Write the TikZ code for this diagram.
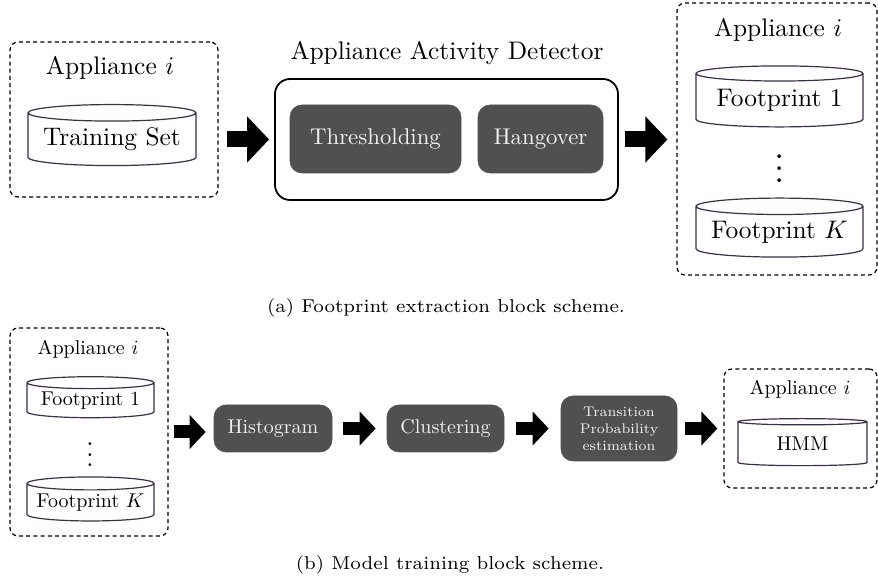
\documentclass[tikz,border=0pt]{standalone}
\usepackage{amsmath}
\usepackage{amssymb}
\usepackage{tikz}
\usetikzlibrary{positioning,shapes.geometric,arrows.meta}

\definecolor{cylcol}{RGB}{62,44,72}
\definecolor{blockfill}{RGB}{80,80,80}
\definecolor{blocktext}{RGB}{242,242,242}

\newcommand{\bigtxt}[1]{\scalebox{1.27}{#1}}
\newcommand{\midtxt}[1]{\scalebox{1.14}{#1}}
\newcommand{\captxt}[1]{\scalebox{1.33}{\fontsize{7}{8}\selectfont #1}}

\begin{document}
\begin{tikzpicture}[x=0.5pt, y=-0.5pt,
    applbox/.style={draw, dashed, dash pattern=on 2pt off 1.6pt, line width=0.6pt, rounded corners=4pt, inner sep=0pt},
    detbox/.style={draw, line width=0.9pt, rounded corners=7.5pt, inner sep=0pt},
    procbox/.style={fill=blockfill, draw=blockfill, line width=0.3pt, rounded corners=6pt, text=blocktext, inner sep=0pt},
    dbcyl/.style={cylinder, shape border rotate=90, draw=cylcol, line width=0.6pt, aspect=0.12, inner sep=0pt},
    vdotsnode/.style={inner sep=0pt},
    bigarrow/.style={line width=8pt, -{Triangle[length=11pt, width=22.5pt]}},
    smallarrow/.style={line width=6.5pt, -{Triangle[length=8pt, width=16.5pt]}}
]
    \useasboundingbox (0,0) rectangle (878,581);

    % (a) footprint extraction
    \node[applbox, minimum width=104pt, minimum height=77.5pt] (app1) at (114,119.5) {};
    \node (app1lbl) at (110,68) {\bigtxt{Appliance $i$}};
    \node[dbcyl, minimum width=84pt, minimum height=30.5pt] (tset) at (112,139.5) {\bigtxt{Training Set}};

    \node[detbox, minimum width=171.5pt, minimum height=60.5pt] (aad) at (446.5,139.5) {};
    \node (aadlbl) at (447,53) {\bigtxt{Appliance Activity Detector}};
    \node[procbox, minimum width=85.5pt, minimum height=34pt] (thr) at (375.5,139) {\midtxt{Thresholding}};
    \node[procbox, minimum width=62.5pt, minimum height=34pt] (hang) at (540.5,139) {\midtxt{Hangover}};

    \node[applbox, minimum width=100pt, minimum height=136pt] (app2) at (777,139) {};
    \node (app2lbl) at (778,30) {\bigtxt{Appliance $i$}};
    \node[dbcyl, minimum width=83.5pt, minimum height=30.5pt] (fp1) at (779.5,100.5) {\bigtxt{Footprint 1}};
    \node[vdotsnode] (dots1) at (779.5,160) {\scalebox{1.45}{\fontsize{13}{15}\selectfont$\vdots$}};
    \node[dbcyl, minimum width=83.5pt, minimum height=29.5pt] (fpk) at (779.5,232) {\bigtxt{Footprint $K$}};

    \draw[bigarrow, shorten <=4pt, shorten >=2.5pt] (app1.east |- aad.west) -- (aad.west);
    \draw[bigarrow, shorten <=3pt, shorten >=4.5pt] (aad.east) -- (aad.east -| app2.west);

    \node (capa) at (446,308) {\captxt{(a) Footprint extraction block scheme.}};

    % (b) model training
    \node[applbox, minimum width=79pt, minimum height=104pt] (app3) at (89,432) {};
    \node (app3lbl) at (88,349) {Appliance $i$};
    \node[dbcyl, minimum width=63.5pt, minimum height=20.5pt] (fp3) at (90.5,400.5) {Footprint 1};
    \node[vdotsnode] (dots3) at (90,447) {\scalebox{1.3}{\fontsize{11}{13}\selectfont$\vdots$}};
    \node[dbcyl, minimum width=63.5pt, minimum height=22pt] (fpk3) at (90.5,502.5) {Footprint $K$};

    \node[procbox, minimum width=59pt, minimum height=23.5pt] (hist) at (273,428.5) {Histogram};
    \node[procbox, minimum width=58.5pt, minimum height=23.5pt] (clus) at (445.5,428.5) {Clustering};
    \node[procbox, font=\fontsize{7}{8.5}\selectfont, align=center, minimum width=58pt, minimum height=32.5pt] (trans) at (619,428.5) {Transition\\Probability\\estimation};

    \node[applbox, minimum width=76.5pt, minimum height=59.5pt] (app4) at (800.5,428.5) {};
    \node (app4lbl) at (800,389) {Appliance $i$};
    \node[dbcyl, minimum width=64.5pt, minimum height=23.5pt] (hmm) at (802.5,444) {HMM};

    \draw[smallarrow, shorten <=2.5pt, shorten >=4pt] (app3.east) -- (app3.east -| hist.west);
    \draw[smallarrow, shorten <=5.5pt, shorten >=5.5pt] (hist.east) -- (clus.west);
    \draw[smallarrow, shorten <=6pt, shorten >=6pt] (clus.east) -- (trans.west);
    \draw[smallarrow, shorten <=4pt, shorten >=3pt] (trans.east) -- (trans.east -| app4.west);

    \node (capb) at (450,565) {\captxt{(b) Model training block scheme.}};

\end{tikzpicture}
\end{document}
